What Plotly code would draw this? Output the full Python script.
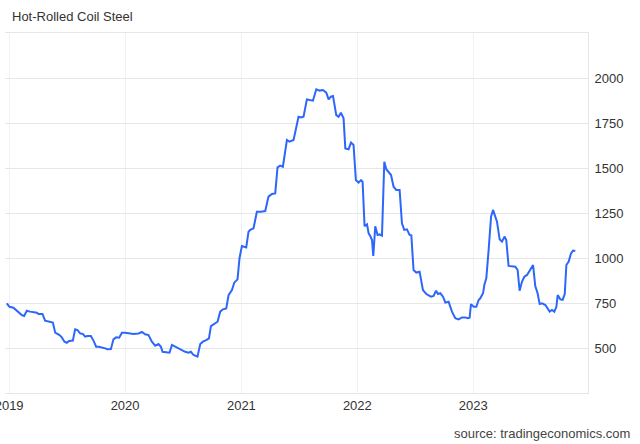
import pandas as pd
import plotly.graph_objects as go

# time as decimal years, values in USD/T
years = [
    2018.980, 2019.003, 2019.037, 2019.060, 2019.080, 2019.109, 2019.129, 2019.153, 2019.181, 2019.209,
    2019.239, 2019.253, 2019.287, 2019.310, 2019.339, 2019.377, 2019.397, 2019.434, 2019.454, 2019.477,
    2019.497, 2019.517, 2019.549, 2019.569, 2019.589, 2019.612, 2019.635, 2019.655, 2019.675, 2019.704,
    2019.727, 2019.750, 2019.773, 2019.799, 2019.828, 2019.847, 2019.877, 2019.899, 2019.922, 2019.948,
    2019.972, 2020.000, 2020.028, 2020.072, 2020.115, 2020.144, 2020.172, 2020.201, 2020.230, 2020.259,
    2020.287, 2020.308, 2020.322, 2020.359, 2020.382, 2020.403, 2020.431, 2020.459, 2020.489, 2020.517,
    2020.546, 2020.566, 2020.589, 2020.623, 2020.647, 2020.670, 2020.698, 2020.722, 2020.739, 2020.761,
    2020.796, 2020.819, 2020.842, 2020.871, 2020.891, 2020.920, 2020.940, 2020.968, 2020.985, 2021.006,
    2021.026, 2021.043, 2021.063, 2021.078, 2021.106, 2021.135, 2021.170, 2021.207, 2021.235, 2021.265,
    2021.293, 2021.313, 2021.336, 2021.359, 2021.394, 2021.416, 2021.451, 2021.494, 2021.515, 2021.537,
    2021.566, 2021.595, 2021.618, 2021.647, 2021.675, 2021.704, 2021.733, 2021.753, 2021.773, 2021.791,
    2021.819, 2021.839, 2021.859, 2021.882, 2021.897, 2021.925, 2021.946, 2021.968, 2021.988, 2022.011,
    2022.032, 2022.046, 2022.063, 2022.084, 2022.098, 2022.112, 2022.127, 2022.138, 2022.155, 2022.175,
    2022.192, 2022.213, 2022.233, 2022.250, 2022.270, 2022.291, 2022.313, 2022.336, 2022.365, 2022.385,
    2022.405, 2022.428, 2022.451, 2022.466, 2022.485, 2022.509, 2022.537, 2022.566, 2022.595, 2022.615,
    2022.635, 2022.658, 2022.679, 2022.696, 2022.716, 2022.739, 2022.759, 2022.787, 2022.816, 2022.845,
    2022.873, 2022.903, 2022.931, 2022.951, 2022.968, 2022.980, 2023.003, 2023.026, 2023.046, 2023.060,
    2023.084, 2023.095, 2023.112, 2023.132, 2023.153, 2023.170, 2023.184, 2023.204, 2023.227, 2023.247,
    2023.270, 2023.284, 2023.304, 2023.334, 2023.362, 2023.382, 2023.399, 2023.420, 2023.440, 2023.463,
    2023.491, 2023.515, 2023.534, 2023.554, 2023.572, 2023.592, 2023.621, 2023.641, 2023.658, 2023.678,
    2023.698, 2023.716, 2023.727, 2023.750, 2023.770, 2023.788, 2023.802, 2023.822, 2023.842, 2023.859,
    2023.879,
]
prices = [
    748, 729, 724, 711, 696, 683, 678, 707, 702, 698,
    696, 689, 689, 652, 646, 641, 585, 572, 559, 535,
    529, 539, 541, 604, 600, 581, 578, 563, 567, 567,
    541, 507, 507, 504, 498, 493, 494, 548, 559, 557,
    585, 585, 581, 578, 581, 589, 576, 572, 535, 513,
    522, 507, 479, 476, 474, 517, 507, 498, 489, 479,
    474, 479, 461, 452, 522, 535, 544, 554, 622, 633,
    646, 702, 715, 720, 794, 822, 863, 881, 998, 1067,
    1063, 1059, 1146, 1156, 1165, 1257, 1257, 1261, 1341, 1356,
    1359, 1504, 1513, 1507, 1656, 1646, 1656, 1785, 1781, 1785,
    1881, 1878, 1874, 1937, 1930, 1933, 1919, 1881, 1896, 1900,
    1794, 1785, 1807, 1776, 1609, 1604, 1641, 1628, 1433, 1419,
    1433, 1424, 1176, 1187, 1137, 1122, 1100, 1011, 1176, 1128,
    1131, 1124, 1535, 1493, 1480, 1461, 1396, 1378, 1378, 1193,
    1156, 1159, 1128, 1126, 933, 919, 924, 822, 800, 794,
    785, 789, 818, 800, 804, 785, 752, 757, 702, 665,
    659, 670, 670, 665, 668, 744, 729, 729, 767, 776,
    804, 850, 887, 1044, 1230, 1267, 1244, 1202, 1104, 1091,
    1119, 1100, 956, 952, 952, 933, 818, 869, 896, 906,
    933, 961, 844, 804, 744, 748, 739, 720, 702, 711,
    702, 729, 794, 770, 767, 800, 961, 980, 1026, 1041,
    1039,
]
y_ticks = [500, 750, 1000, 1250, 1500, 1750, 2000]
x_ticks = ["2019-01-01", "2020-01-01", "2021-01-01", "2022-01-01", "2023-01-01"]
x_tick_labels = ["2019", "2020", "2021", "2022", "2023"]

base = pd.Timestamp("2019-01-01")
dates = [base + pd.Timedelta(days=(t - 2019) * 365.25) for t in years]

fig = go.Figure()
fig.add_trace(go.Scatter(
    x=dates, y=prices, mode="lines",
    line=dict(color="#2d66fb", width=2),
    hoverinfo="skip", showlegend=False,
))

font_family = "Liberation Sans, Arial, sans-serif"
fig.update_layout(
    width=640, height=444,
    margin=dict(l=5, r=52, t=33, b=51),
    paper_bgcolor="white", plot_bgcolor="white",
    font=dict(family=font_family, size=13, color="#333333"),
    title=dict(text="Hot-Rolled Coil Steel", x=12 / 640, xanchor="left",
               y=1 - 16 / 444, yanchor="middle",
               font=dict(family=font_family, size=13, color="#333333")),
    xaxis=dict(
        type="date",
        range=["2018-12-19", "2023-12-28"],
        tickvals=x_ticks, ticktext=x_tick_labels,
        ticklabeloverflow="allow", automargin=False,
        showgrid=True, gridcolor="#eef2f7", gridwidth=1,
        showline=True, linecolor="#e6e6e6", linewidth=1, mirror=True,
        ticks="", zeroline=False,
        tickfont=dict(size=13, color="#333333"),
    ),
    yaxis=dict(
        side="right",
        range=[250, 2250],
        tickvals=y_ticks, automargin=False,
        showgrid=True, gridcolor="#e6e6e6", gridwidth=1,
        showline=True, linecolor="#e6e6e6", linewidth=1,
        ticks="outside", ticklen=3, tickcolor="rgba(0,0,0,0)",
        zeroline=False,
        tickfont=dict(size=13, color="#333333"),
    ),
    annotations=[dict(
        text="source: tradingeconomics.com",
        xref="paper", yref="paper",
        x=(632 - 5) / 583, y=(393 - 433) / 360,
        xanchor="right", yanchor="middle", showarrow=False,
        font=dict(family=font_family, size=13, color="#444444"),
    )],
)

fig.write_html(
    "out.html",
    config={"displayModeBar": False},
    post_script="document.body.style.margin='0';document.body.style.overflow='hidden';",
)
